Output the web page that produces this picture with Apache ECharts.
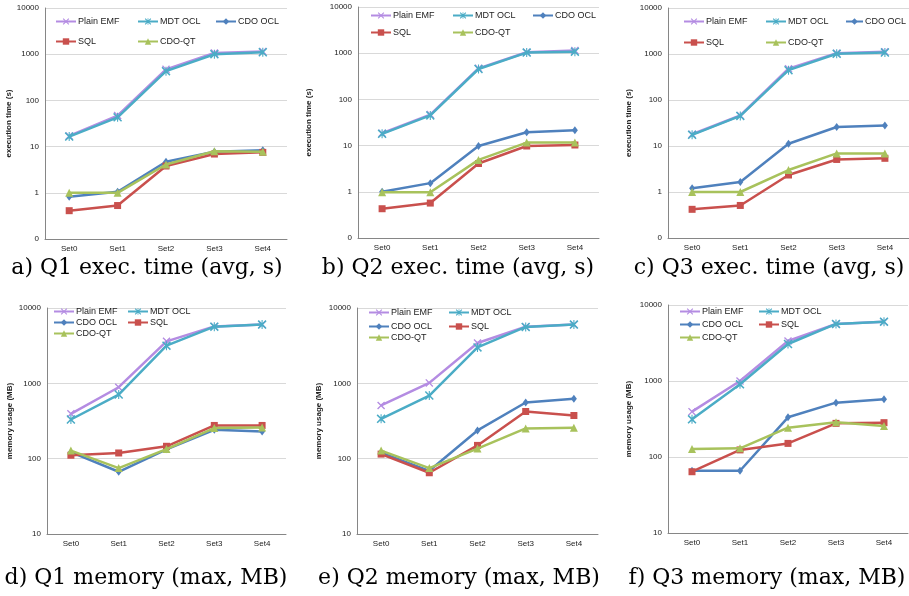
<!DOCTYPE html>
<html>
<head>
<meta charset="utf-8">
<script src="https://cdn.jsdelivr.net/npm/echarts@6/dist/echarts.min.js"></script>
<style>
html,body{margin:0;padding:0;background:#fff;}
#chart{width:909px;height:596px;}
</style>
</head>
<body>
<div id="chart"></div>
<script>
// ---------- data ----------
const categories = ['Set0', 'Set1', 'Set2', 'Set3', 'Set4'];
const seriesNames = ['Plain EMF', 'MDT OCL', 'CDO OCL', 'SQL', 'CDO-QT'];
const timeTicks = ['0', '1', '10', '100', '1000', '10000'];
const memTicks = ['10', '100', '1000', '10000'];
const captions = [
  'a) Q1 exec. time (avg, s)', 'b) Q2 exec. time (avg, s)', 'c) Q3 exec. time (avg, s)',
  'd) Q1 memory (max, MB)', 'e) Q2 memory (max, MB)', 'f) Q3 memory (max, MB)'
];
const timeAxisName = 'execution time (s)';
const memAxisName = 'memory usage (MB)';

// Q1 execution time (s)
const q1TimePlainEMF = [17, 47, 470, 1060, 1150];
const q1TimeMDTOCL   = [16.5, 43, 430, 1000, 1100];
const q1TimeCDOOCL   = [0.82, 1.05, 4.7, 7.7, 8.3];
const q1TimeSQL      = [0.41, 0.53, 3.8, 6.9, 7.5];
const q1TimeCDOQT    = [1.0, 1.0, 4.1, 7.9, 7.7];
// Q2 execution time (s)
const q2TimePlainEMF = [18.5, 47, 470, 1050, 1150];
const q2TimeMDTOCL   = [18, 45, 455, 1030, 1080];
const q2TimeCDOOCL   = [1.0, 1.54, 9.8, 19.4, 21.5];
const q2TimeSQL      = [0.43, 0.57, 4.1, 9.8, 10.3];
const q2TimeCDOQT    = [0.98, 0.98, 4.9, 11.6, 11.6];
// Q3 execution time (s)
const q3TimePlainEMF = [18, 46, 480, 1040, 1120];
const q3TimeMDTOCL   = [17.5, 45, 445, 1010, 1080];
const q3TimeCDOOCL   = [1.2, 1.65, 11.2, 25.9, 28];
const q3TimeSQL      = [0.42, 0.51, 2.34, 5.1, 5.4];
const q3TimeCDOQT    = [1.0, 1.0, 3.0, 6.9, 6.9];
// Q1 memory (MB)
const q1MemPlainEMF = [394, 888, 3610, 5700, 6030];
const q1MemMDTOCL   = [331, 710, 3160, 5650, 6030];
const q1MemCDOOCL   = [122, 67, 133, 242, 230];
const q1MemSQL      = [111, 119, 146, 276, 276];
const q1MemCDOQT    = [128, 75, 134, 255, 260];
// Q2 memory (MB)
const q2MemPlainEMF = [508, 1013, 3430, 5640, 6030];
const q2MemMDTOCL   = [338, 689, 3000, 5600, 6030];
const q2MemCDOOCL   = [120, 69, 237, 556, 622];
const q2MemSQL      = [115, 65, 150, 423, 374];
const q2MemCDOQT    = [128, 75, 136, 252, 257];
// Q3 memory (MB)
const q3MemPlainEMF = [395, 1000, 3360, 5630, 6030];
const q3MemMDTOCL   = [313, 904, 3070, 5630, 6030];
const q3MemCDOOCL   = [66, 66, 333, 519, 574];
const q3MemSQL      = [64, 124, 151, 277, 283];
const q3MemCDOQT    = [127, 130, 243, 286, 256];

const panelData = [
  [q1TimePlainEMF, q1TimeMDTOCL, q1TimeCDOOCL, q1TimeSQL, q1TimeCDOQT],
  [q2TimePlainEMF, q2TimeMDTOCL, q2TimeCDOOCL, q2TimeSQL, q2TimeCDOQT],
  [q3TimePlainEMF, q3TimeMDTOCL, q3TimeCDOOCL, q3TimeSQL, q3TimeCDOQT],
  [q1MemPlainEMF, q1MemMDTOCL, q1MemCDOOCL, q1MemSQL, q1MemCDOQT],
  [q2MemPlainEMF, q2MemMDTOCL, q2MemCDOOCL, q2MemSQL, q2MemCDOQT],
  [q3MemPlainEMF, q3MemMDTOCL, q3MemCDOOCL, q3MemSQL, q3MemCDOQT]
];

// ---------- styles / layout ----------
const colors = ['#B48CE2', '#4BACC6', '#4F81BD', '#C9504D', '#A8C25C'];
const xPath = 'path://M0,1.2L1.2,0L5,3.8L8.8,0L10,1.2L6.2,5L10,8.8L8.8,10L5,6.2L1.2,10L0,8.8L3.8,5Z';
const starPath = 'path://M0,1.2L1.2,0L5,3.8L8.8,0L10,1.2L6.2,5L10,8.8L8.8,10L5,6.2L1.2,10L0,8.8L3.8,5ZM4.4,0L5.6,0L5.6,10L4.4,10Z';
const symbols = [xPath, starPath, 'diamond', 'rect', 'triangle'];
const symbolSizes = [8, 9, [6, 8], 7, 8];

const grids = [
  {left: 45, top: 8, width: 242, height: 231},
  {left: 358, top: 7, width: 241, height: 231},
  {left: 668, top: 8, width: 241, height: 230},
  {left: 47, top: 308, width: 239, height: 226},
  {left: 357, top: 308, width: 241, height: 226},
  {left: 668, top: 305, width: 240, height: 228}
];
const nameGaps = [32, 45, 35, 33, 34, 35];
const captionPos = [
  [147, 257], [458, 257], [769, 257],
  [146, 567], [459, 567], [767, 567]
];
// legend layouts: [iconLeft x, row center y, icon width] per series
const legendPos = [
  [[55, 22, 20], [137, 22, 20], [215, 22, 20], [55, 42, 20], [137, 42, 20]],
  [[370, 16, 20], [452, 16, 20], [532, 16, 20], [370, 33, 20], [452, 33, 20]],
  [[683, 22, 20], [765, 22, 20], [845, 22, 17], [683, 43, 20], [765, 43, 20]],
  [[53, 312, 20], [127, 312, 20], [53, 323, 20], [127, 323, 20], [53, 334, 20]],
  [[368, 313, 20], [448, 313, 20], [368, 327, 20], [448, 327, 20], [368, 338, 20]],
  [[679, 312, 20], [758, 312, 20], [679, 325, 20], [758, 325, 20], [679, 338, 20]]
];

const sans = 'Liberation Sans, Arial, sans-serif';
const option = {
  animation: false,
  backgroundColor: '#fff',
  title: [], grid: [], xAxis: [], yAxis: [], legend: [], series: []
};

for (let p = 0; p < 6; p++) {
  const isTime = p < 3;
  option.title.push({
    text: captions[p], left: captionPos[p][0], top: captionPos[p][1], textAlign: 'center',
    padding: 0,
    textStyle: {fontFamily: 'DejaVu Serif, serif', fontSize: 22, fontWeight: 'normal', color: '#000'}
  });
  option.grid.push(Object.assign({containLabel: false}, grids[p]));
  option.xAxis.push({
    type: 'category', gridIndex: p, data: categories, boundaryGap: true,
    axisLine: {show: true, lineStyle: {color: '#868686', width: 1}},
    axisTick: {show: false},
    axisLabel: {fontFamily: sans, fontSize: 8, color: '#222', margin: 6},
    splitLine: {show: false}
  });
  option.yAxis.push({
    type: 'log', logBase: 10, gridIndex: p,
    min: isTime ? 0.1 : 10, max: 10000,
    name: isTime ? timeAxisName : memAxisName,
    nameLocation: 'middle', nameGap: nameGaps[p], nameRotate: 90,
    nameTextStyle: {fontFamily: sans, fontSize: 8, fontWeight: 'bold', color: '#222'},
    axisLine: {show: true, lineStyle: {color: '#868686', width: 1}},
    axisTick: {show: false},
    splitLine: {show: true, lineStyle: {color: '#D9D9D9', width: 1}},
    axisLabel: {
      fontFamily: sans, fontSize: 8, color: '#222', margin: 6,
      formatter: function (v) {
        const ticks = isTime ? timeTicks : memTicks;
        const idx = Math.round(Math.log10(v)) - (isTime ? -1 : 1);
        return ticks[idx] !== undefined ? ticks[idx] : '';
      }
    }
  });
  for (let s = 0; s < 5; s++) {
    option.series.push({
      type: 'line', name: seriesNames[s], xAxisIndex: p, yAxisIndex: p,
      data: panelData[p][s],
      symbol: symbols[s], symbolSize: symbolSizes[s],
      showSymbol: true,
      lineStyle: {color: colors[s], width: 2.5},
      itemStyle: {color: colors[s]},
      z: 2 + s
    });
    option.legend.push({
      data: [seriesNames[s]],
      left: legendPos[p][s][0], top: legendPos[p][s][1] - 5,
      padding: 0, itemWidth: legendPos[p][s][2], itemHeight: 8, itemGap: 0,
      textStyle: {fontFamily: sans, fontSize: 9, color: '#222', padding: [0, 0, 0, -3]},
      selectedMode: false
    });
  }
}

const chart = echarts.init(document.getElementById('chart'), null, {renderer: 'canvas'});
chart.setOption(option);
</script>
</body>
</html>
